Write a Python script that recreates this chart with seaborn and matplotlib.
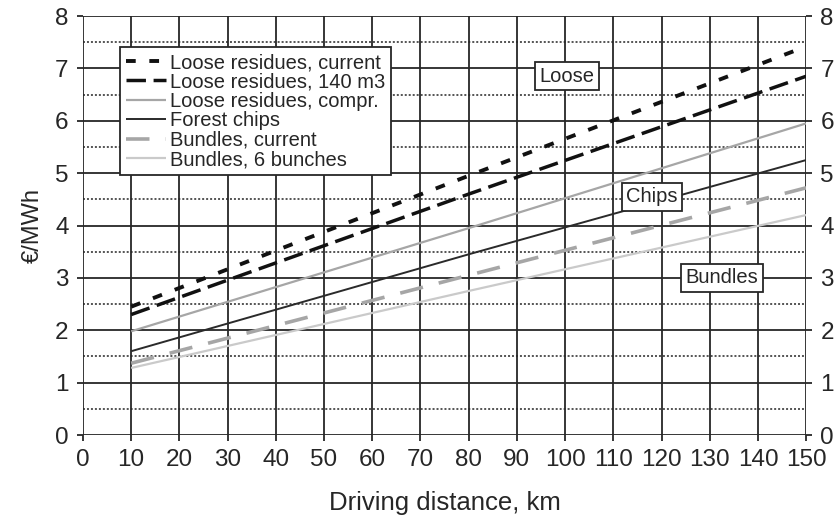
import matplotlib
matplotlib.use("Agg")
import matplotlib.pyplot as plt
import seaborn as sns
import pandas as pd

# Driving distance (km) and transport cost (€/MWh) for each supply chain
distance_km = [10, 80, 150]
loose_current = [2.45, 4.95, 7.42]
loose_140m3 = [2.30, 4.60, 6.85]
loose_compr = [1.98, 3.95, 5.95]
forest_chips = [1.60, 3.45, 5.25]
bundles_current = [1.37, 3.05, 4.72]
bundles_6 = [1.28, 2.75, 4.20]

series_names = [
    "Loose residues, current",
    "Loose residues, 140 m3",
    "Loose residues, compr.",
    "Forest chips",
    "Bundles, current",
    "Bundles, 6 bunches",
]
series_values = [loose_current, loose_140m3, loose_compr, forest_chips,
                 bundles_current, bundles_6]

x_ticks = list(range(0, 151, 10))
y_ticks = list(range(0, 9))

rows = []
for name, vals in zip(series_names, series_values):
    for d, v in zip(distance_km, vals):
        rows.append({"distance": d, "cost": v, "series": name})
df = pd.DataFrame(rows)

sns.set_theme(style="white")
plt.rcParams["font.family"] = ["Liberation Sans", "DejaVu Sans"]

INK = "#262626"
styles = {
    "Loose residues, current": dict(color="#111111", lw=2.8, dashes=(2.5, 3.5)),
    "Loose residues, 140 m3": dict(color="#111111", lw=2.5, dashes=(5.6, 2.2)),
    "Loose residues, compr.": dict(color="#a6a6a6", lw=1.6, dashes=None),
    "Forest chips": dict(color="#2a2a2a", lw=1.4, dashes=None),
    "Bundles, current": dict(color="#a6a6a6", lw=2.6, dashes=(6.5, 4.5)),
    "Bundles, 6 bunches": dict(color="#cacaca", lw=1.6, dashes=None),
}

fig = plt.figure(figsize=(8.38, 5.17), dpi=100)
ax = fig.add_axes([0.099, 0.1586, 0.863, 0.8104])

for name in series_names:
    sub = df[df["series"] == name]
    st = styles[name]
    sns.lineplot(data=sub, x="distance", y="cost", ax=ax, color=st["color"],
                 lw=st["lw"], label=name, zorder=3)
    line = ax.get_lines()[-1]
    if st["dashes"] is not None:
        line.set_dashes(st["dashes"])
    line.set_solid_capstyle("butt")
    line.set_dash_capstyle("butt")

ax.set_xlim(0, 150)
ax.set_ylim(0, 8)
ax.set_xticks(x_ticks)
ax.set_yticks(y_ticks)
ax.set_yticks([v + 0.5 for v in y_ticks[:-1]], minor=True)

# Grid: solid at whole values and every 10 km, dotted at half values
ax.grid(True, which="major", axis="both", color=INK, lw=1.3, zorder=1)
ax.grid(True, which="minor", axis="y", color=INK, lw=1.1,
        linestyle=(0, (1.3, 1.3)), zorder=1)

ax.tick_params(axis="both", which="major", labelsize=17.5, length=4.3,
               width=1.3, color=INK, labelcolor=INK, direction="out",
               bottom=True, left=True, right=True, labelright=True, pad=6)
ax.tick_params(axis="y", which="minor", length=0)
for s in ax.spines.values():
    s.set_visible(False)

ax.set_xlabel("Driving distance, km", fontsize=18.5, labelpad=14, color=INK)
ax.set_ylabel("€/MWh", fontsize=17, labelpad=8, color=INK)

leg = ax.legend(loc="upper left", bbox_to_anchor=(0.051, 0.926), fontsize=14.5,
                frameon=True, fancybox=False, edgecolor=INK,
                framealpha=1, labelspacing=0.02, handlelength=2.0,
                handletextpad=0.2, borderpad=0.3, borderaxespad=0)
leg.get_frame().set_linewidth(1.3)
leg.set_zorder(5)

box = dict(boxstyle="square,pad=0.22", fc="white", ec=INK, lw=1.3)
ax.text(100.4, 6.85, "Loose", fontsize=14.5, ha="center", va="center",
        bbox=box, zorder=6, color=INK)
ax.text(118, 4.55, "Chips", fontsize=14.5, ha="center", va="center",
        bbox=box, zorder=6, color=INK)
ax.text(132.5, 3.0, "Bundles", fontsize=14.5, ha="center", va="center",
        bbox=box, zorder=6, color=INK)

fig.savefig("out.png", dpi=100, facecolor="white")
